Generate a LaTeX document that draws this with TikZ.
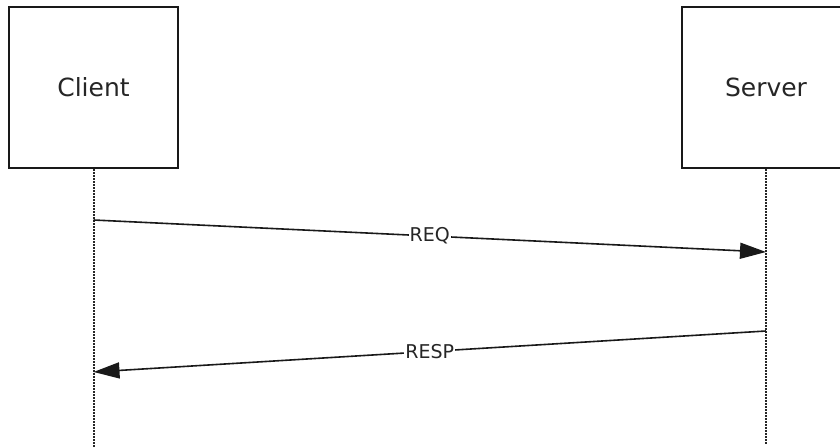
\documentclass[tikz,border=0pt]{standalone}
\usepackage{fontspec}
\setmainfont{DejaVu Sans}
\usetikzlibrary{arrows.meta}
\begin{document}
\begin{tikzpicture}[x=1pt,y=-1pt,
  actor/.style={draw=black!90,line width=2pt,minimum width=169pt,minimum height=161pt,inner sep=0pt,font=\fontsize{25}{28}\selectfont,text=black!85},
  lifeline/.style={line width=2pt,dash pattern=on 1.5pt off 1.5pt,black!85},
  msg/.style={line width=1.6pt,black!90,-{Triangle[length=26pt,width=16pt]}},
  lbl/.style={fill=white,inner sep=1pt,font=\fontsize{19}{22}\selectfont,text=black!85}]
\useasboundingbox (0,0) rectangle (840,447);
\begin{scope}
\clip (0,0) rectangle (840,447);
\node[actor] (client) at (93.5,87.5) {Client};
\node[actor] (server) at (766,87.5) {Server};
\coordinate (cend) at (93.5,447);
\coordinate (send) at (766,444);
\draw[lifeline] (client.south) -- (cend);
\draw[lifeline] (server.south) -- (send);
\coordinate (c1) at (93.5,220);
\coordinate (s1) at (766,252);
\coordinate (s2) at (766,331);
\coordinate (c2) at (93.5,372);
\draw[msg] (c1) -- node[lbl] (req) {REQ} (s1);
\draw[msg] (s2) -- node[lbl] (resp) {RESP} (c2);
\end{scope}
\end{tikzpicture}
\end{document}
